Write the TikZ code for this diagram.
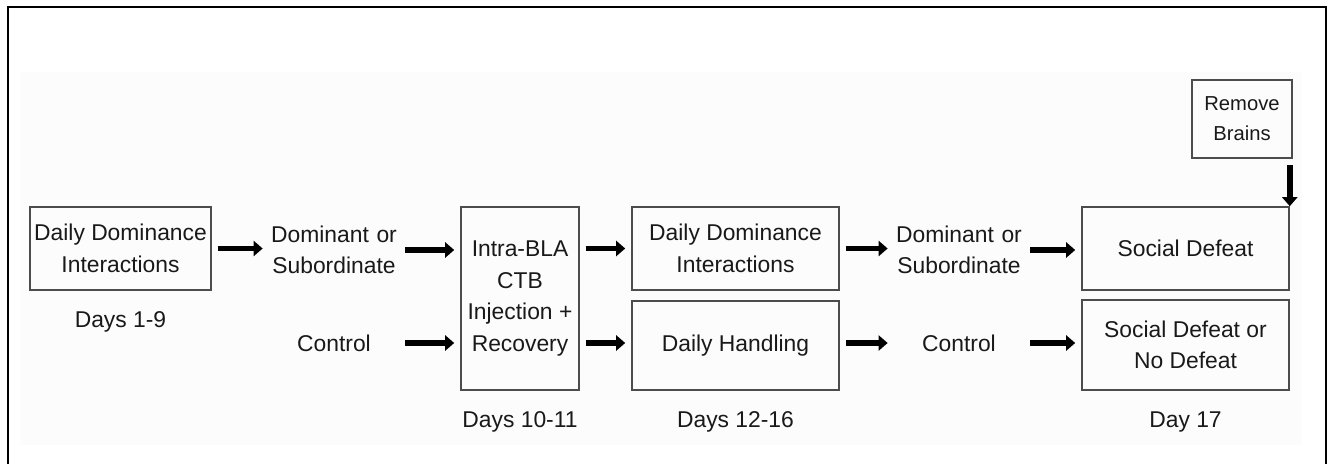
\documentclass[tikz,border=0pt]{standalone}
\usepackage{fontspec}
\setmainfont{Liberation Sans}
\usetikzlibrary{arrows.meta,positioning}

\begin{document}
\begin{tikzpicture}[
  line/.style={-{Triangle[length=1.8mm,width=3.0mm]},line width=3.1pt,draw=black,shorten <=1.2mm,shorten >=1.2mm},
  frame/.style={draw=black,line width=1.1pt},
  stage/.style={rectangle,draw=black!70,line width=0.9pt,align=center,inner sep=0pt,text=black!90,font=\fontsize{13}{18}\selectfont},
  stagebig/.style={stage,minimum width=4.14cm},
  group/.style={align=center,inner sep=0pt,text width=2.6cm,text=black!90,font=\fontsize{13}{18}\selectfont},
  day/.style={text=black!90,font=\fontsize{13}{18}\selectfont}
]
\useasboundingbox (0,0) rectangle (26.66,-9.26);

% Frame and faint panel
\fill[black!1] (0.40,-1.44) rectangle (26.04,-8.90);
\draw[frame] (0.16,-9.40) |- (26.52,-0.14) -- (26.52,-9.40);

% Stages
\node[stage,minimum width=3.62cm,minimum height=1.66cm] (ddi1) at (2.41,-4.97) {Daily Dominance\\Interactions};
\node[group] (dom1) at (6.68,-5.00) {Dominant or\\Subordinate};
\node[group] (ctl1) at (6.68,-6.86) {Control};
\node[stage,minimum width=2.36cm,minimum height=3.66cm] (ctb) at (10.40,-5.97) {Intra-BLA\\CTB\\Injection +\\Recovery};
\node[stagebig,minimum height=1.66cm] (ddi2) at (14.71,-4.97) {Daily Dominance\\Interactions};
\node[stagebig,minimum height=1.78cm] (hand) at (14.71,-6.91) {Daily Handling};
\node[group] (dom2) at (19.18,-5.00) {Dominant or\\Subordinate};
\node[group] (ctl2) at (19.18,-6.86) {Control};
\node[stagebig,minimum height=1.66cm] (defeat) at (23.71,-4.97) {Social Defeat};
\node[stagebig,minimum height=1.80cm] (defeatno) at (23.71,-6.90) {Social Defeat or\\No Defeat};
\node[stage,minimum width=2.0cm,minimum height=1.56cm,font=\fontsize{11.5}{17}\selectfont] (brains) at (24.84,-2.38) {Remove\\Brains};

% Day labels
\node[day,below=0.3cm of ddi1] (d1) {Days 1-9};
\node[day,below=0.3cm of ctb] (d2) {Days 10-11};
\node[day,below=0.3cm of hand] (d3) {Days 12-16};
\node[day,below=0.3cm of defeatno] (d4) {Day 17};

% Arrows
\draw[line] (ddi1.east) -- (ddi1.east -| dom1.west);
\draw[line] (dom1.east) -- (dom1.east -| ctb.west);
\draw[line] (ctl1.east) -- (ctl1.east -| ctb.west);
\draw[line] (ctb.east |- ddi2) -- (ddi2.west);
\draw[line] (ctl1 -| ctb.east) -- (ctl1 -| hand.west);
\draw[line] (ddi2.east) -- (ddi2.east -| dom2.west);
\draw[line] (ctl1 -| hand.east) -- (ctl1 -| ctl2.west);
\draw[line] (dom2.east) -- (dom2.east -| defeat.west);
\draw[line] (ctl2.east) -- (ctl2.east -| defeatno.west);
\draw[line,shorten >=0pt] (defeat.north east |- brains.south) -- (defeat.north east);

\end{tikzpicture}
\end{document}
